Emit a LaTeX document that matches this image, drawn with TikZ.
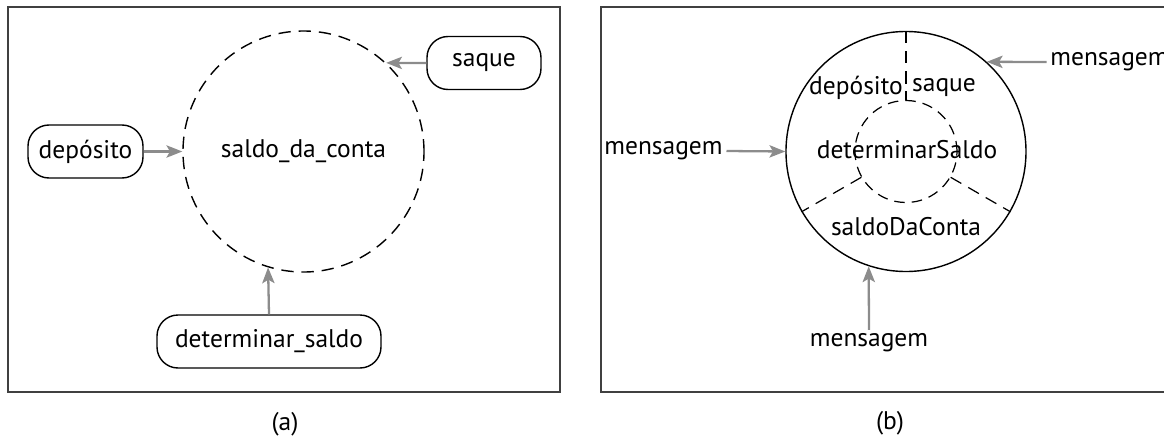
\documentclass[tikz,border=0pt]{standalone}
\usepackage{fontspec}
\setmainfont{PT Sans}
\usetikzlibrary{arrows, arrows.meta}

\begin{document}
\begin{tikzpicture}[
  font=\fontsize{14.5}{17}\selectfont,
  quadro/.style={draw=black!75, line width=0.8pt},
  metodo/.style={draw, line width=0.8pt, rounded corners=0.42cm, minimum height=1.06cm, inner sep=0pt},
  objeto/.style={circle, draw, line width=0.8pt, inner sep=0pt},
  tracejado/.style={dash pattern=on 7pt off 4.5pt},
  mensagem/.style={inner sep=2pt},
  seta/.style={draw=black!45, line width=1.3pt, -{Stealth[length=9pt,width=7pt,inset=2pt]}}
]
\clip (0,0) rectangle (23.28,-8.74);
\draw [quadro] (0.16,-0.14) rectangle (11.2,-7.84);
\node [objeto, tracejado, minimum size=4.82cm] (contaA) at (6.07,-3.03) {saldo\_da\_conta};
\node [metodo, minimum width=2.30cm] (deposito) at (1.71,-3.03) {depósito};
\node [metodo, minimum width=2.28cm] (saque) at (9.68,-1.26) {saque};
\node [metodo, minimum width=4.48cm] (determinar) at (5.38,-6.83) {determinar\_saldo};
\draw [seta] (deposito.east) -- (contaA.west);
\draw [seta] (saque.west) -- (contaA.47.2);
\draw [seta] (determinar.north) -- (contaA.253.4);
\node at (5.7,-8.48) {(a)};

\draw [quadro] (12.02,-0.14) rectangle (23.6,-7.84);
\node [objeto, minimum size=4.80cm] (contaB) at (18.12,-3.03) {};
\node [objeto, tracejado, line width=0.7pt, dash pattern=on 6pt off 4pt, minimum size=2.04cm] (nucleo) at (18.12,-3.03) {};
\draw [tracejado, line width=0.7pt] (contaB.90) -- (nucleo.90);
\draw [tracejado, line width=0.7pt] (nucleo.210) -- (contaB.210);
\draw [tracejado, line width=0.7pt] (nucleo.330) -- (contaB.330);
\node (depB) at (17.12,-1.76) {depósito};
\node (saqueB) at (18.88,-1.76) {saque};
\node (determinarB) at (18.14,-3.0) {determinarSaldo};
\node (saldoB) at (18.12,-4.54) {saldoDaConta};
\node [mensagem] (msgEsq) at (13.27,-3.02) {mensagem};
\node [mensagem, anchor=west] (msgDir) at (20.93,-1.24) {mensagem};
\node [mensagem] (msgBaixo) at (17.38,-6.86) {mensagem};
\draw [seta] (msgEsq.east) -- (contaB.west);
\draw [seta] (msgDir.west) -- (contaB.48.2);
\draw [seta] (msgBaixo.north) -- (contaB.252);
\node at (17.8,-8.46) {(b)};
\end{tikzpicture}
\end{document}
